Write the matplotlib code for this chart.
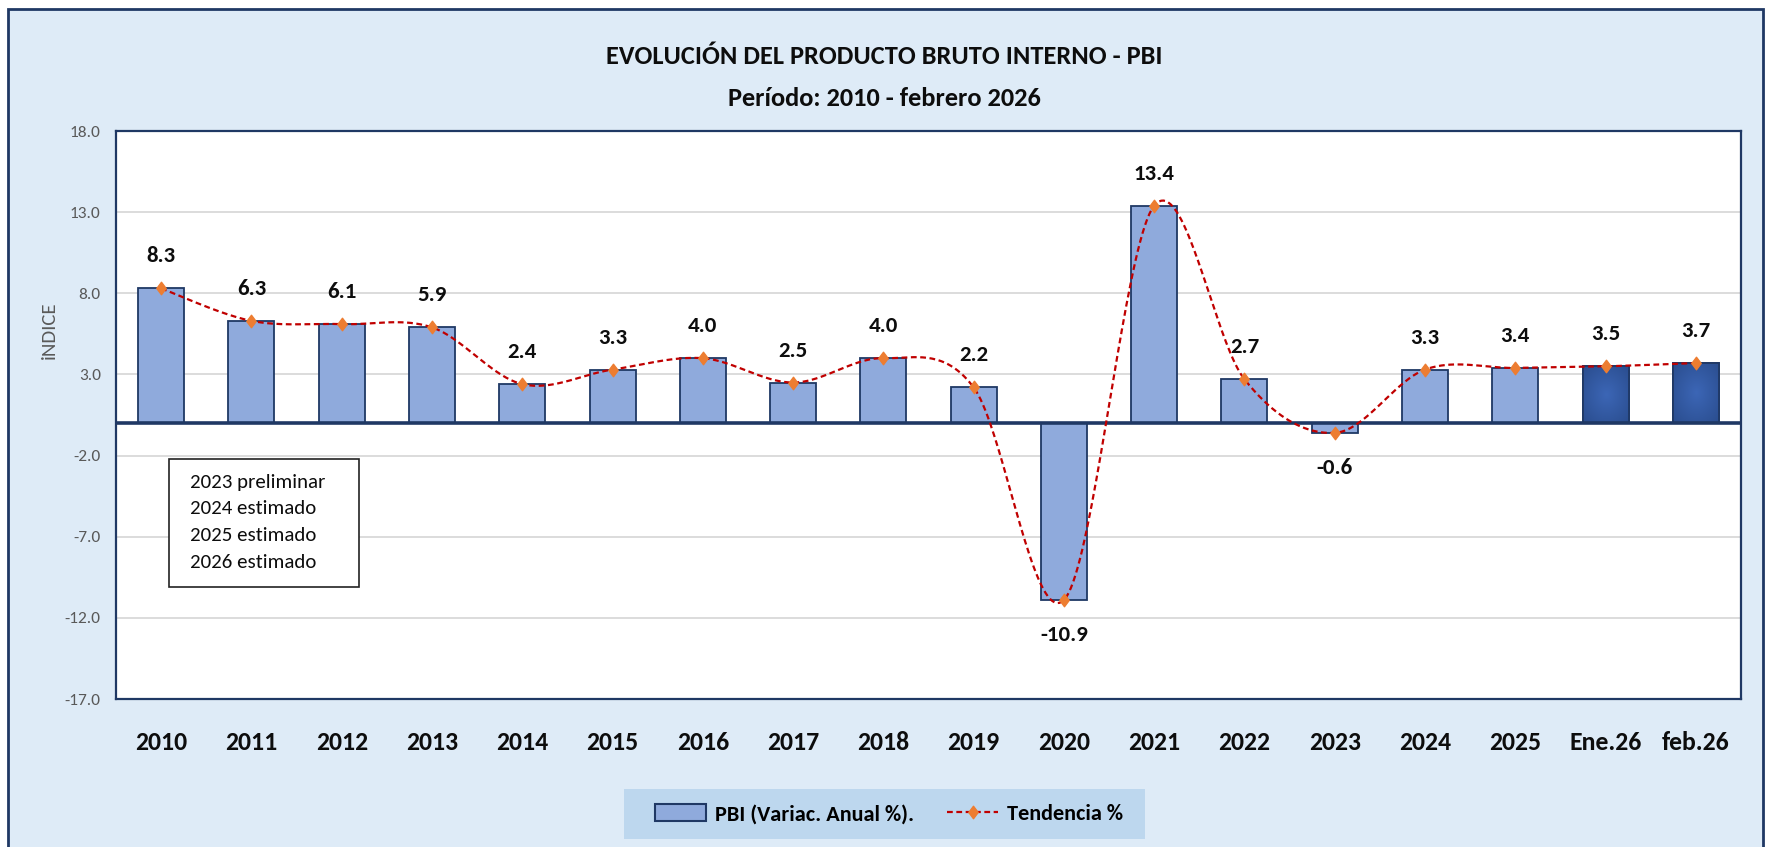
import numpy as np
import matplotlib
matplotlib.use('Agg')
import matplotlib.pyplot as plt
from matplotlib import font_manager
from matplotlib.patches import Rectangle, Patch
from matplotlib.lines import Line2D
from matplotlib.path import Path
import matplotlib.colors as mcolors

# ---------------- data ----------------
categories = ['2010', '2011', '2012', '2013', '2014', '2015', '2016', '2017', '2018',
              '2019', '2020', '2021', '2022', '2023', '2024', '2025', 'Ene.26', 'feb.26']
values = [8.3, 6.3, 6.1, 5.9, 2.4, 3.3, 4.0, 2.5, 4.0, 2.2, -10.9, 13.4, 2.7, -0.6,
          3.3, 3.4, 3.5, 3.7]
highlight = ['Ene.26', 'feb.26']
y_ticks = [-17.0, -12.0, -7.0, -2.0, 3.0, 8.0, 13.0, 18.0]
notes = ['2023 preliminar', '2024 estimado', '2025 estimado', '2026 estimado']
title_lines = ['EVOLUCIÓN DEL PRODUCTO BRUTO INTERNO - PBI', 'Período: 2010 - febrero 2026']
series_names = ['PBI (Variac. Anual %).', 'Tendencia %']
y_label = 'iNDICE'


def has(n):
    try:
        font_manager.findfont(font_manager.FontProperties(family=n), fallback_to_default=False)
        return True
    except Exception:
        return False


def pick(names):
    for n in names:
        if has(n):
            return n
    return 'DejaVu Sans'


CAL = pick(['Carlito', 'Noto Sans CJK JP', 'Liberation Sans'])
FAM = [CAL, 'DejaVu Sans']

W, H = 1768, 847
fig = plt.figure(figsize=(W / 100, H / 100), dpi=100, facecolor='white')

NAVY = '#1F3864'
BG = '#DEEBF7'
BAR = '#8FAADC'
DARK = '#2F5597'
RED = '#C00000'
ORANGE = '#ED7D31'
GREY = '#595959'
INK = '#0D0D0D'

diamond = Path([(0, 1), (0.75, 0), (0, -1), (-0.75, 0), (0, 1)],
               [Path.MOVETO, Path.LINETO, Path.LINETO, Path.LINETO, Path.CLOSEPOLY])

# outer frame
fig.patches.append(Rectangle((8 / W, -0.02), (1763 - 8) / W, 1 - 9 / H + 0.02,
                             transform=fig.transFigure, facecolor=BG, edgecolor=NAVY,
                             lw=2, zorder=-2))

ax_l, ax_r, ax_t, ax_b = 116, 1741, 131, 699
ax = fig.add_axes([ax_l / W, 1 - ax_b / H, (ax_r - ax_l) / W, (ax_b - ax_t) / H])
ax.set_facecolor('white')

x = np.arange(len(categories))
bw = 0.51
colors = [DARK if c in highlight else BAR for c in categories]
bars = ax.bar(x, values, width=bw, color=colors, edgecolor=NAVY, linewidth=1.3, zorder=2)

# radial gradient for highlighted bars
cmap = mcolors.LinearSegmentedColormap.from_list('g', ['#3C66B6', '#2A4D8E'])
yy, xx = np.mgrid[-1:1:80j, -1:1:80j]
rr = np.sqrt(xx ** 2 + yy ** 2)
for b, c in zip(bars, categories):
    if c in highlight:
        im = ax.imshow(rr, cmap=cmap, extent=(b.get_x(), b.get_x() + b.get_width(), 0, b.get_height()),
                       aspect='auto', zorder=2.1, vmin=0, vmax=1.4)
        im.set_clip_path(b)
        ax.add_patch(Rectangle((b.get_x(), 0), b.get_width(), b.get_height(), fill=False,
                               edgecolor=NAVY, lw=1.3, zorder=2.2))

# smooth trend line (Bezier smoothing like Excel)
P = np.column_stack([x, values]).astype(float)
n = len(P)
pts = []
for i in range(n - 1):
    p0 = P[i]
    p3 = P[i + 1]
    pm = P[i - 1] if i > 0 else P[i]
    pp = P[i + 2] if i + 2 < n else P[i + 1]
    c1 = p0 + (p3 - pm) / 6.0
    c2 = p3 - (pp - p0) / 6.0
    t = np.linspace(0, 1, 40)[:, None]
    seg = (1 - t) ** 3 * p0 + 3 * (1 - t) ** 2 * t * c1 + 3 * (1 - t) * t ** 2 * c2 + t ** 3 * p3
    pts.append(seg if i == 0 else seg[1:])
curve = np.vstack(pts)
ax.plot(curve[:, 0], curve[:, 1], color=RED, lw=1.6, linestyle=(0, (2.6, 1.6)), zorder=4)
ax.plot(x, values, linestyle='none', marker=diamond, markersize=9, color=ORANGE,
        markeredgecolor=ORANGE, zorder=5)

ax.axhline(0, color=NAVY, lw=2.6, zorder=3)

# data labels
for xi, v in zip(x, values):
    ax.annotate(f'{v:.1f}', (xi, v), xytext=(0, 23 if v >= 0 else -25),
                textcoords='offset points', ha='center', va='center',
                fontsize=16.5, fontweight='bold', family=FAM, color=INK, zorder=6)

ax.set_xlim(-0.5, len(categories) - 0.5)
ax.set_ylim(y_ticks[0], y_ticks[-1])
ax.set_yticks(y_ticks)
ax.set_yticklabels([f'{t:.1f}' for t in y_ticks], family=FAM, fontsize=12.5, color=GREY)
ax.set_xticks(x)
ax.set_xticklabels(categories, family=FAM, fontsize=18.5, fontweight='bold', color=INK)
ax.tick_params(axis='y', length=0, pad=11)
ax.tick_params(axis='x', length=0, pad=23)
ax.grid(axis='y', color='#D9D9D9', lw=1.3, zorder=0)
ax.set_axisbelow(True)
for s in ax.spines.values():
    s.set_color(NAVY)
    s.set_linewidth(1.6)

fig.text(49 / W, 1 - 330 / H, y_label, rotation=90, ha='center', va='center',
         fontsize=15, color=GREY, family=FAM)

# titles
fig.text(0.5, 1 - 56 / H, title_lines[0], ha='center', va='center', fontsize=19,
         fontweight='bold', family=FAM, color=INK)
fig.text(0.5, 1 - 98 / H, title_lines[1], ha='center', va='center', fontsize=19,
         fontweight='bold', family=FAM, color=INK)

# notes box
fig.patches.append(Rectangle((169 / W, 1 - 587 / H), 190 / W, 128 / H, transform=fig.transFigure,
                             facecolor='white', edgecolor='#222222', lw=1.2, zorder=10))
for k, t in enumerate(notes):
    fig.text(190 / W, 1 - (482 + 26.7 * k) / H, t, ha='left', va='center', fontsize=15,
             family=FAM, color=INK, zorder=11)

# legend
fig.patches.append(Rectangle((624 / W, 1 - 839 / H), (1145 - 624) / W, 50 / H,
                             transform=fig.transFigure, facecolor='#BDD7EE', edgecolor='none',
                             zorder=1))
handles = [Patch(facecolor=BAR, edgecolor=NAVY, linewidth=1.5),
           Line2D([0], [0], color=RED, lw=1.6, linestyle=(0, (2.6, 1.6)), marker=diamond,
                  markersize=9, markerfacecolor=ORANGE, markeredgecolor=ORANGE)]
leg = fig.legend(handles, series_names, loc='center', bbox_to_anchor=(889 / W, 1 - 814 / H),
                 ncol=2, frameon=False, prop={'family': FAM, 'weight': 'bold', 'size': 16},
                 handlelength=2.3, handleheight=0.85, columnspacing=1.5, handletextpad=0.4)
leg.set_zorder(12)

fig.savefig('out.png', dpi=100, facecolor='white')
